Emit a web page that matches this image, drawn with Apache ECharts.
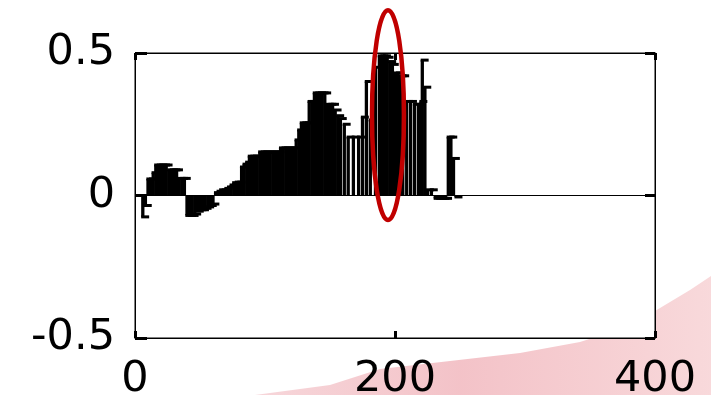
<!DOCTYPE html>
<html>
<head>
<meta charset="utf-8">
<script src="https://cdn.jsdelivr.net/npm/echarts@6/dist/echarts.min.js"></script>
<style>
html,body{margin:0;padding:0;background:#fff;}
#chart{width:711px;height:395px;}
</style>
</head>
<body>
<div id="chart"></div>
<script>
// ---- data ----
var xTicks = [0, 200, 400];
var yTicks = [-0.5, 0, 0.5];
var stemX = [6, 8, 10, 12, 14, 16, 18, 20, 22, 24, 26, 28, 30, 32, 34, 36, 38,
  40, 42, 44, 46, 48, 50, 52, 54, 56, 58, 60,
  62, 64, 66, 68, 70, 72, 74, 76, 78, 80,
  82, 84, 86, 88, 90, 92, 94, 96, 98, 100, 102, 104, 106, 108, 110,
  112, 114, 116, 118, 120, 122, 124, 126, 128, 130, 132, 134, 136, 138, 140, 142, 144, 146,
  148, 150, 152, 154, 156, 158,
  161, 164, 168, 172, 175, 178, 181, 185,
  188, 190, 192, 194, 196, 198, 200, 202, 204, 206,
  209, 212, 215, 218, 220, 221, 223, 225, 228, 231, 233, 235, 237, 239, 241, 243, 245, 247];
var stemY = [-0.075, -0.035, 0.058, 0.058, 0.08, 0.107, 0.107, 0.107, 0.107, 0.107, 0.09, 0.09, 0.09, 0.09, 0.06, 0.06, 0.06,
  -0.07, -0.07, -0.07, -0.065, -0.055, -0.05, -0.05, -0.045, -0.04, -0.035, -0.03,
  0.01, 0.015, 0.02, 0.02, 0.025, 0.03, 0.037, 0.045, 0.047, 0.047,
  0.1, 0.11, 0.117, 0.138, 0.138, 0.138, 0.138, 0.153, 0.153, 0.153, 0.153, 0.153, 0.153, 0.153, 0.153,
  0.167, 0.167, 0.167, 0.167, 0.167, 0.167, 0.195, 0.23, 0.255, 0.255, 0.255, 0.33, 0.33, 0.36, 0.36, 0.36, 0.36, 0.36,
  0.32, 0.32, 0.32, 0.3, 0.28, 0.27,
  0.25, 0.205, 0.205, 0.205, 0.275, 0.4, 0.265, 0.45,
  0.49, 0.49, 0.49, 0.485, 0.47, 0.46, 0.43, 0.43, 0.42, 0.42,
  0.33, 0.33, 0.32, 0.32, 0.33, 0.475, 0.38, 0.02, 0.02, -0.01, -0.01, -0.01, -0.01, -0.01, 0.205, 0.205, 0.13, -0.005];
// highlighted region (ellipse), data units
var highlightCenter = [194.6, 0.282];
var highlightRadius = [12.3, 0.368];

var stems = stemX.map(function (x, i) { return [x, stemY[i]]; });

var chart = echarts.init(document.getElementById('chart'), null, {renderer: 'canvas'});

var labelFont = {fontFamily: 'DejaVu Sans', fontSize: 43, color: '#000'};
var swoosh = {
  type: 'polygon',
  z: -100,
  silent: true,
  shape: {points: [[255, 395], [330, 385], [380, 369], [450, 361], [520, 353], [580, 342], [630, 326], [660, 308], [690, 290], [711, 276], [711, 395]]},
  style: {
    fill: new echarts.graphic.LinearGradient(0, 0, 1, 0, [
      {offset: 0, color: 'rgba(244,200,205,0.75)'},
      {offset: 0.45, color: 'rgba(242,188,194,0.9)'},
      {offset: 1, color: 'rgba(248,215,217,0.95)'}
    ])
  }
};

chart.setOption({
  backgroundColor: '#fff',
  animation: false,
  graphic: [swoosh],
  grid: {left: 135, right: 56, top: 53, bottom: 57, containLabel: false, outerBoundsMode: 'none', show: true, backgroundColor: '#fff', borderColor: '#000', borderWidth: 1, z: 0},
  xAxis: [{
    type: 'value', min: xTicks[0], max: xTicks[xTicks.length - 1], interval: 200, position: 'bottom',
    axisLine: {show: true, onZero: false, lineStyle: {color: '#000', width: 1}},
    axisTick: {show: true, inside: true, length: 7, lineStyle: {color: '#000', width: 3}},
    axisLabel: Object.assign({margin: 20}, labelFont),
    splitLine: {show: false}
  }, {
    type: 'value', min: xTicks[0], max: xTicks[xTicks.length - 1], interval: 200, position: 'top',
    axisLine: {show: true, onZero: false, lineStyle: {color: '#000', width: 1}},
    axisTick: {show: true, inside: true, length: 7, lineStyle: {color: '#000', width: 3}},
    axisLabel: {show: false},
    splitLine: {show: false}
  }],
  yAxis: [{
    type: 'value', min: yTicks[0], max: yTicks[yTicks.length - 1], interval: 0.5, position: 'left',
    axisLine: {show: true, onZero: false, lineStyle: {color: '#000', width: 1}},
    axisTick: {show: true, inside: true, length: 12, lineStyle: {color: '#000', width: 3}},
    axisLabel: Object.assign({margin: 20}, labelFont),
    splitLine: {show: false}
  }, {
    type: 'value', min: yTicks[0], max: yTicks[yTicks.length - 1], interval: 0.5, position: 'right',
    axisLine: {show: true, onZero: false, lineStyle: {color: '#000', width: 1}},
    axisTick: {show: true, inside: true, length: 10, lineStyle: {color: '#000', width: 3}},
    axisLabel: {show: false},
    splitLine: {show: false}
  }],
  series: [{
    type: 'custom',
    xAxisIndex: 0,
    yAxisIndex: 0,
    clip: true,
    data: stems,
    renderItem: function (params, api) {
      var x = api.value(0), v = api.value(1);
      var p0 = api.coord([x, 0]);
      var p1 = api.coord([x, v]);
      var w = 3.3;
      var left = p0[0] - w / 2;
      return {
        type: 'group',
        children: [{
          type: 'rect',
          shape: {x: left, y: Math.min(p0[1], p1[1]), width: w, height: Math.abs(p1[1] - p0[1])},
          style: {fill: '#000'}
        }, {
          type: 'rect',
          shape: {x: left, y: p1[1] - 1.5, width: 8, height: 3},
          style: {fill: '#000'}
        }]
      };
    },
    markLine: {
      silent: true,
      symbol: 'none',
      label: {show: false},
      lineStyle: {color: '#000', width: 1, type: 'solid'},
      data: [{yAxis: 0}]
    },
    z: 2
  }]
});

// red ellipse around highlighted region, positioned via the chart's scales
var c = chart.convertToPixel({xAxisIndex: 0, yAxisIndex: 0}, highlightCenter);
var e = chart.convertToPixel({xAxisIndex: 0, yAxisIndex: 0}, [highlightCenter[0] + highlightRadius[0], highlightCenter[1] + highlightRadius[1]]);
chart.setOption({
  graphic: [swoosh, {
    type: 'ellipse',
    z: 100,
    silent: true,
    shape: {cx: c[0], cy: c[1], rx: Math.abs(e[0] - c[0]), ry: Math.abs(c[1] - e[1])},
    style: {fill: null, stroke: '#c00000', lineWidth: 4.5}
  }]
}, {replaceMerge: ['graphic']});
</script>
</body>
</html>
